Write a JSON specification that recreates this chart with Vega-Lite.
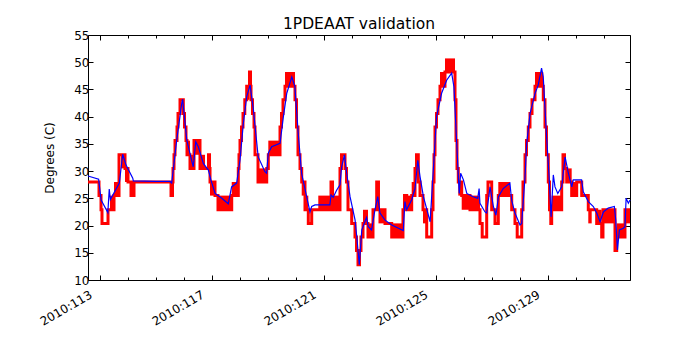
{
  "$schema": "https://vega.github.io/schema/vega-lite/v6.json",
  "width": 542,
  "height": 245,
  "autosize": "none",
  "padding": {"left": 88, "top": 35, "right": 70, "bottom": 70},
  "title": {"text": "1PDEAAT validation", "fontSize": 15.5, "font": "DejaVu Sans", "fontWeight": "normal", "offset": -3, "color": "black"},
  "config": {
    "view": {"stroke": "black", "strokeWidth": 1},
    "axis": {"domain": false, "grid": false, "labelFont": "DejaVu Sans", "labelFontSize": 12, "labelColor": "black", "tickColor": "black", "tickWidth": 1, "titleFont": "DejaVu Sans", "titleFontSize": 12, "titleFontWeight": "normal", "titleColor": "black", "labelOverlap": false, "labelFlush": false, "labelBound": false}
  },
  "datasets": {
    "telemetry": [
      {"day": 112.571, "temp": 28.0}, {"day": 112.964, "temp": 25.5}, {"day": 113.036, "temp": 22.9}, {"day": 113.071, "temp": 20.4},
      {"day": 113.286, "temp": 22.9}, {"day": 113.5, "temp": 25.5}, {"day": 113.679, "temp": 33.0}, {"day": 113.75, "temp": 33.0},
      {"day": 113.893, "temp": 30.5}, {"day": 114.0, "temp": 28.0}, {"day": 114.107, "temp": 25.5}, {"day": 114.214, "temp": 28.0},
      {"day": 115.536, "temp": 25.5}, {"day": 115.589, "temp": 28.0}, {"day": 115.607, "temp": 30.5}, {"day": 115.643, "temp": 33.0},
      {"day": 115.679, "temp": 35.6}, {"day": 115.75, "temp": 38.1}, {"day": 115.786, "temp": 40.6}, {"day": 115.857, "temp": 43.1},
      {"day": 115.975, "temp": 40.6}, {"day": 116.018, "temp": 38.1}, {"day": 116.071, "temp": 35.6}, {"day": 116.107, "temp": 33.0},
      {"day": 116.214, "temp": 30.5}, {"day": 116.357, "temp": 35.6}, {"day": 116.571, "temp": 30.5}, {"day": 116.875, "temp": 33.0},
      {"day": 116.911, "temp": 30.5}, {"day": 116.929, "temp": 28.0}, {"day": 117.107, "temp": 25.5}, {"day": 117.214, "temp": 22.9},
      {"day": 117.704, "temp": 25.5}, {"day": 117.939, "temp": 30.5}, {"day": 117.964, "temp": 33.0}, {"day": 118.0, "temp": 35.6},
      {"day": 118.054, "temp": 38.1}, {"day": 118.107, "temp": 40.6}, {"day": 118.171, "temp": 43.1}, {"day": 118.239, "temp": 45.6},
      {"day": 118.339, "temp": 48.2}, {"day": 118.375, "temp": 45.6}, {"day": 118.393, "temp": 43.1}, {"day": 118.446, "temp": 40.6},
      {"day": 118.5, "temp": 38.1}, {"day": 118.536, "temp": 33.0}, {"day": 118.643, "temp": 28.0}, {"day": 118.954, "temp": 30.5},
      {"day": 119.011, "temp": 33.0}, {"day": 119.429, "temp": 38.1}, {"day": 119.482, "temp": 40.6}, {"day": 119.536, "temp": 43.1},
      {"day": 119.607, "temp": 45.6}, {"day": 119.964, "temp": 43.1}, {"day": 120.018, "temp": 38.1}, {"day": 120.071, "temp": 33.0},
      {"day": 120.143, "temp": 30.5}, {"day": 120.204, "temp": 28.0}, {"day": 120.321, "temp": 22.9}, {"day": 120.439, "temp": 20.4},
      {"day": 120.561, "temp": 22.9}, {"day": 121.25, "temp": 28.0}, {"day": 121.304, "temp": 22.9}, {"day": 121.571, "temp": 30.5},
      {"day": 121.625, "temp": 33.0}, {"day": 121.75, "temp": 30.5}, {"day": 121.804, "temp": 28.0}, {"day": 121.857, "temp": 22.9},
      {"day": 121.989, "temp": 20.4}, {"day": 122.107, "temp": 17.9}, {"day": 122.161, "temp": 15.4}, {"day": 122.214, "temp": 12.8},
      {"day": 122.268, "temp": 15.4}, {"day": 122.321, "temp": 17.9}, {"day": 122.393, "temp": 20.4}, {"day": 122.571, "temp": 17.9},
      {"day": 122.75, "temp": 22.9}, {"day": 122.882, "temp": 28.0}, {"day": 122.946, "temp": 22.9}, {"day": 123.179, "temp": 20.4},
      {"day": 123.418, "temp": 17.9}, {"day": 123.821, "temp": 22.9}, {"day": 123.875, "temp": 25.5}, {"day": 123.954, "temp": 22.9},
      {"day": 124.132, "temp": 25.5}, {"day": 124.25, "temp": 30.5}, {"day": 124.304, "temp": 33.0}, {"day": 124.368, "temp": 28.0},
      {"day": 124.429, "temp": 25.5}, {"day": 124.536, "temp": 22.9}, {"day": 124.668, "temp": 17.9}, {"day": 124.846, "temp": 22.9},
      {"day": 124.893, "temp": 28.0}, {"day": 124.929, "temp": 33.0}, {"day": 124.964, "temp": 38.1}, {"day": 125.018, "temp": 40.6},
      {"day": 125.071, "temp": 43.1}, {"day": 125.143, "temp": 45.6}, {"day": 125.321, "temp": 48.2}, {"day": 125.679, "temp": 43.1},
      {"day": 125.714, "temp": 35.6}, {"day": 125.75, "temp": 30.5}, {"day": 125.796, "temp": 28.0}, {"day": 125.918, "temp": 25.5},
      {"day": 126.214, "temp": 22.9}, {"day": 126.571, "temp": 20.4}, {"day": 126.65, "temp": 17.9}, {"day": 126.811, "temp": 25.5},
      {"day": 126.857, "temp": 28.0}, {"day": 126.989, "temp": 22.9}, {"day": 127.107, "temp": 20.4}, {"day": 127.225, "temp": 25.5},
      {"day": 127.704, "temp": 22.9}, {"day": 127.821, "temp": 20.4}, {"day": 127.9, "temp": 17.9}, {"day": 128.061, "temp": 22.9},
      {"day": 128.107, "temp": 28.0}, {"day": 128.179, "temp": 33.0}, {"day": 128.232, "temp": 35.6}, {"day": 128.296, "temp": 38.1},
      {"day": 128.357, "temp": 40.6}, {"day": 128.429, "temp": 43.1}, {"day": 128.536, "temp": 45.6}, {"day": 128.832, "temp": 43.1},
      {"day": 128.893, "temp": 38.1}, {"day": 128.946, "temp": 33.0}, {"day": 129.011, "temp": 28.0}, {"day": 129.054, "temp": 22.9},
      {"day": 129.1, "temp": 20.4}, {"day": 129.132, "temp": 22.9}, {"day": 129.489, "temp": 28.0}, {"day": 129.536, "temp": 33.0},
      {"day": 129.589, "temp": 30.5}, {"day": 129.668, "temp": 28.0}, {"day": 129.846, "temp": 25.5}, {"day": 130.025, "temp": 28.0},
      {"day": 130.204, "temp": 25.5}, {"day": 130.439, "temp": 22.9}, {"day": 130.739, "temp": 20.4}, {"day": 130.918, "temp": 17.9},
      {"day": 130.964, "temp": 22.9}, {"day": 131.393, "temp": 15.4}, {"day": 131.454, "temp": 17.9}, {"day": 131.75, "temp": 22.9},
      {"day": 131.929, "temp": 22.9}
    ],
    "toggle": [
      {"d0": 113.357, "d1": 113.5, "lo": 22.9, "hi": 25.5}, {"d0": 113.5, "d1": 113.679, "lo": 25.5, "hi": 28.0},
      {"d0": 113.75, "d1": 113.893, "lo": 30.5, "hi": 33.0}, {"d0": 113.893, "d1": 114.0, "lo": 28.0, "hi": 30.5},
      {"d0": 116.107, "d1": 116.214, "lo": 33.0, "hi": 35.6}, {"d0": 116.214, "d1": 116.357, "lo": 30.5, "hi": 33.0},
      {"d0": 116.357, "d1": 116.571, "lo": 33.0, "hi": 35.6}, {"d0": 116.571, "d1": 116.75, "lo": 30.5, "hi": 33.0},
      {"d0": 116.929, "d1": 117.107, "lo": 25.5, "hi": 28.0}, {"d0": 117.214, "d1": 117.704, "lo": 22.9, "hi": 25.5},
      {"d0": 117.704, "d1": 117.939, "lo": 25.5, "hi": 28.0}, {"d0": 118.239, "d1": 118.339, "lo": 43.1, "hi": 45.6},
      {"d0": 118.643, "d1": 118.954, "lo": 28.0, "hi": 30.5}, {"d0": 119.011, "d1": 119.429, "lo": 33.0, "hi": 35.6},
      {"d0": 119.607, "d1": 119.964, "lo": 45.6, "hi": 48.2}, {"d0": 120.204, "d1": 120.321, "lo": 25.5, "hi": 28.0},
      {"d0": 120.321, "d1": 120.439, "lo": 22.9, "hi": 25.5}, {"d0": 120.796, "d1": 121.571, "lo": 22.9, "hi": 25.5},
      {"d0": 122.393, "d1": 122.571, "lo": 20.4, "hi": 22.9}, {"d0": 122.571, "d1": 122.75, "lo": 17.9, "hi": 20.4},
      {"d0": 122.946, "d1": 123.179, "lo": 20.4, "hi": 22.9}, {"d0": 123.418, "d1": 123.821, "lo": 17.9, "hi": 20.4},
      {"d0": 123.954, "d1": 124.132, "lo": 22.9, "hi": 25.5}, {"d0": 124.132, "d1": 124.25, "lo": 25.5, "hi": 28.0},
      {"d0": 124.536, "d1": 124.668, "lo": 20.4, "hi": 22.9}, {"d0": 125.143, "d1": 125.321, "lo": 45.6, "hi": 48.2},
      {"d0": 125.321, "d1": 125.679, "lo": 48.2, "hi": 50.7}, {"d0": 125.796, "d1": 125.918, "lo": 25.5, "hi": 28.0},
      {"d0": 125.918, "d1": 126.571, "lo": 22.9, "hi": 25.5}, {"d0": 127.225, "d1": 127.643, "lo": 25.5, "hi": 28.0},
      {"d0": 128.536, "d1": 128.832, "lo": 45.6, "hi": 48.2}, {"d0": 129.132, "d1": 129.489, "lo": 22.9, "hi": 25.5},
      {"d0": 129.668, "d1": 129.846, "lo": 28.0, "hi": 30.5}, {"d0": 129.846, "d1": 130.025, "lo": 25.5, "hi": 28.0},
      {"d0": 130.439, "d1": 130.561, "lo": 20.4, "hi": 22.9}, {"d0": 130.739, "d1": 130.918, "lo": 20.4, "hi": 22.9},
      {"d0": 130.964, "d1": 131.393, "lo": 20.4, "hi": 22.9}, {"d0": 131.454, "d1": 131.75, "lo": 17.9, "hi": 20.4},
      {"d0": 131.75, "d1": 131.929, "lo": 20.4, "hi": 22.9}
    ],
    "model": [
      {"day": 112.571, "temp": 29.1}, {"day": 112.95, "temp": 28.5}, {"day": 113.04, "temp": 24.7}, {"day": 113.28, "temp": 22.4},
      {"day": 113.33, "temp": 26.7}, {"day": 113.37, "temp": 24.8}, {"day": 113.69, "temp": 27.8}, {"day": 113.81, "temp": 33.1},
      {"day": 113.93, "temp": 31.1}, {"day": 114.17, "temp": 28.7}, {"day": 114.19, "temp": 28.2}, {"day": 115.0, "temp": 28.1},
      {"day": 115.5, "temp": 28.1}, {"day": 115.56, "temp": 27.8}, {"day": 115.74, "temp": 35.7}, {"day": 115.92, "temp": 42.5},
      {"day": 115.95, "temp": 43.2}, {"day": 116.1, "temp": 35.7}, {"day": 116.27, "temp": 32.0}, {"day": 116.33, "temp": 30.8},
      {"day": 116.42, "temp": 35.4}, {"day": 116.51, "temp": 34.5}, {"day": 116.69, "temp": 31.4}, {"day": 116.87, "temp": 30.2},
      {"day": 116.96, "temp": 28.4}, {"day": 117.11, "temp": 25.9}, {"day": 117.35, "temp": 25.0}, {"day": 117.58, "temp": 24.0},
      {"day": 117.7, "temp": 27.1}, {"day": 117.88, "temp": 27.8}, {"day": 118.0, "temp": 32.0}, {"day": 118.12, "temp": 38.8},
      {"day": 118.24, "temp": 43.7}, {"day": 118.36, "temp": 45.8}, {"day": 118.48, "temp": 41.2}, {"day": 118.6, "temp": 35.1},
      {"day": 118.65, "temp": 32.6}, {"day": 118.89, "temp": 29.9}, {"day": 118.95, "temp": 29.6}, {"day": 119.01, "temp": 33.3},
      {"day": 119.13, "temp": 34.5}, {"day": 119.43, "temp": 35.1}, {"day": 119.55, "temp": 40.0}, {"day": 119.67, "temp": 44.3},
      {"day": 119.85, "temp": 47.3}, {"day": 119.96, "temp": 45.5}, {"day": 120.08, "temp": 36.9}, {"day": 120.2, "temp": 29.6},
      {"day": 120.38, "temp": 25.3}, {"day": 120.5, "temp": 22.5}, {"day": 120.56, "temp": 23.5}, {"day": 120.68, "temp": 23.8},
      {"day": 121.21, "temp": 23.8}, {"day": 121.25, "temp": 25.6}, {"day": 121.33, "temp": 25.2}, {"day": 121.45, "temp": 26.5},
      {"day": 121.57, "temp": 27.5}, {"day": 121.63, "temp": 30.8}, {"day": 121.73, "temp": 33.0}, {"day": 121.81, "temp": 29.6},
      {"day": 121.93, "temp": 25.3}, {"day": 122.11, "temp": 21.0}, {"day": 122.17, "temp": 18.0}, {"day": 122.26, "temp": 12.8},
      {"day": 122.35, "temp": 19.2}, {"day": 122.46, "temp": 20.7}, {"day": 122.52, "temp": 21.5}, {"day": 122.58, "temp": 19.8},
      {"day": 122.7, "temp": 19.2}, {"day": 122.82, "temp": 22.9}, {"day": 122.92, "temp": 25.3}, {"day": 123.0, "temp": 22.3},
      {"day": 123.18, "temp": 21.0}, {"day": 123.42, "temp": 20.1}, {"day": 123.83, "temp": 19.1}, {"day": 123.89, "temp": 24.4},
      {"day": 123.95, "temp": 22.9}, {"day": 124.13, "temp": 24.7}, {"day": 124.25, "temp": 26.8}, {"day": 124.35, "temp": 32.0},
      {"day": 124.43, "temp": 29.0}, {"day": 124.55, "temp": 25.3}, {"day": 124.79, "temp": 20.7}, {"day": 124.86, "temp": 26.5},
      {"day": 125.02, "temp": 40.0}, {"day": 125.2, "temp": 44.3}, {"day": 125.38, "temp": 46.7}, {"day": 125.56, "temp": 48.0},
      {"day": 125.64, "temp": 45.5}, {"day": 125.74, "temp": 35.1}, {"day": 125.83, "temp": 25.9}, {"day": 125.88, "temp": 29.6},
      {"day": 125.98, "temp": 28.4}, {"day": 126.1, "temp": 25.9}, {"day": 126.33, "temp": 25.3}, {"day": 126.49, "temp": 25.0},
      {"day": 126.54, "temp": 26.8}, {"day": 126.57, "temp": 24.1}, {"day": 126.75, "temp": 22.5}, {"day": 126.81, "temp": 22.3},
      {"day": 126.93, "temp": 27.1}, {"day": 127.05, "temp": 23.5}, {"day": 127.14, "temp": 21.9}, {"day": 127.23, "temp": 25.3},
      {"day": 127.4, "temp": 26.8}, {"day": 127.64, "temp": 27.8}, {"day": 127.7, "temp": 24.7}, {"day": 127.82, "temp": 22.3},
      {"day": 128.0, "temp": 20.1}, {"day": 128.06, "temp": 20.4}, {"day": 128.18, "temp": 29.0}, {"day": 128.24, "temp": 35.1},
      {"day": 128.36, "temp": 40.6}, {"day": 128.54, "temp": 44.3}, {"day": 128.65, "temp": 45.8}, {"day": 128.77, "temp": 48.9},
      {"day": 128.83, "temp": 47.3}, {"day": 128.95, "temp": 36.3}, {"day": 129.04, "temp": 29.0}, {"day": 129.11, "temp": 21.6},
      {"day": 129.19, "temp": 29.3}, {"day": 129.25, "temp": 27.1}, {"day": 129.35, "temp": 25.9}, {"day": 129.49, "temp": 27.1},
      {"day": 129.61, "temp": 32.6}, {"day": 129.73, "temp": 29.6}, {"day": 129.85, "temp": 27.1}, {"day": 129.9, "temp": 28.4},
      {"day": 130.2, "temp": 28.4}, {"day": 130.26, "temp": 26.2}, {"day": 130.44, "temp": 24.4}, {"day": 130.62, "temp": 23.5},
      {"day": 130.74, "temp": 22.3}, {"day": 130.86, "temp": 20.7}, {"day": 130.98, "temp": 22.5}, {"day": 131.15, "temp": 23.2},
      {"day": 131.37, "temp": 23.5}, {"day": 131.42, "temp": 21.0}, {"day": 131.48, "temp": 15.5}, {"day": 131.55, "temp": 19.2},
      {"day": 131.69, "temp": 19.5}, {"day": 131.75, "temp": 19.8}, {"day": 131.79, "temp": 25.0}, {"day": 131.87, "temp": 24.1},
      {"day": 131.929, "temp": 24.7}
    ]
  },
  "layer": [
    {
      "data": {"name": "toggle"},
      "mark": {"type": "rect", "color": "#ff0000", "strokeWidth": 0},
      "encoding": {
        "x": {"field": "d0", "type": "quantitative", "scale": {"domain": [112.571, 131.929], "nice": false, "zero": false},
          "axis": {"orient": "bottom", "title": null, "values": [113,114,115,116,117,118,119,120,121,122,123,124,125,126,127,128,129,130,131], "tickSize": -3, "labelExpr": "(datum.value - 113) % 4 == 0 ? '2010:' + datum.value : ''", "labelAngle": -30, "labelAlign": "right", "labelBaseline": "top", "labelPadding": 12, "labelOffset": -12}},
        "x2": {"field": "d1"},
        "y": {"field": "lo", "type": "quantitative", "scale": {"domain": [10, 55], "nice": false, "zero": false},
          "axis": {"orient": "left", "title": "Degrees (C)", "values": [10,15,20,25,30,35,40,45,50,55], "tickSize": -5, "labelPadding": 4, "titlePadding": 17}},
        "y2": {"field": "hi"}
      }
    },
    {
      "data": {"name": "telemetry"},
      "mark": {"type": "line", "color": "#ff0000", "strokeWidth": 3, "interpolate": "step-after"},
      "encoding": {
        "x": {"field": "day", "type": "quantitative", "axis": {"orient": "bottom", "title": null, "values": [113,117,121,125,129], "tickSize": -5, "labels": false}},
        "y": {"field": "temp", "type": "quantitative", "axis": {"orient": "right", "title": null, "values": [10,15,20,25,30,35,40,45,50,55], "tickSize": -5, "labels": false}}
      }
    },
    {
      "data": {"name": "model"},
      "mark": {"type": "line", "color": "#0000ff", "strokeWidth": 1.2},
      "encoding": {
        "x": {"field": "day", "type": "quantitative", "axis": {"orient": "top", "title": null, "values": [113,117,121,125,129], "tickSize": -5, "labels": false}},
        "y": {"field": "temp", "type": "quantitative", "axis": null}
      }
    },
    {
      "data": {"name": "model"},
      "mark": {"type": "line", "opacity": 0},
      "encoding": {
        "x": {"field": "day", "type": "quantitative", "axis": {"orient": "top", "title": null, "values": [113,114,115,116,117,118,119,120,121,122,123,124,125,126,127,128,129,130,131], "tickSize": -3, "labels": false}},
        "y": {"field": "temp", "type": "quantitative", "axis": null}
      }
    }
  ],
  "resolve": {"axis": {"x": "independent", "y": "independent"}}
}
